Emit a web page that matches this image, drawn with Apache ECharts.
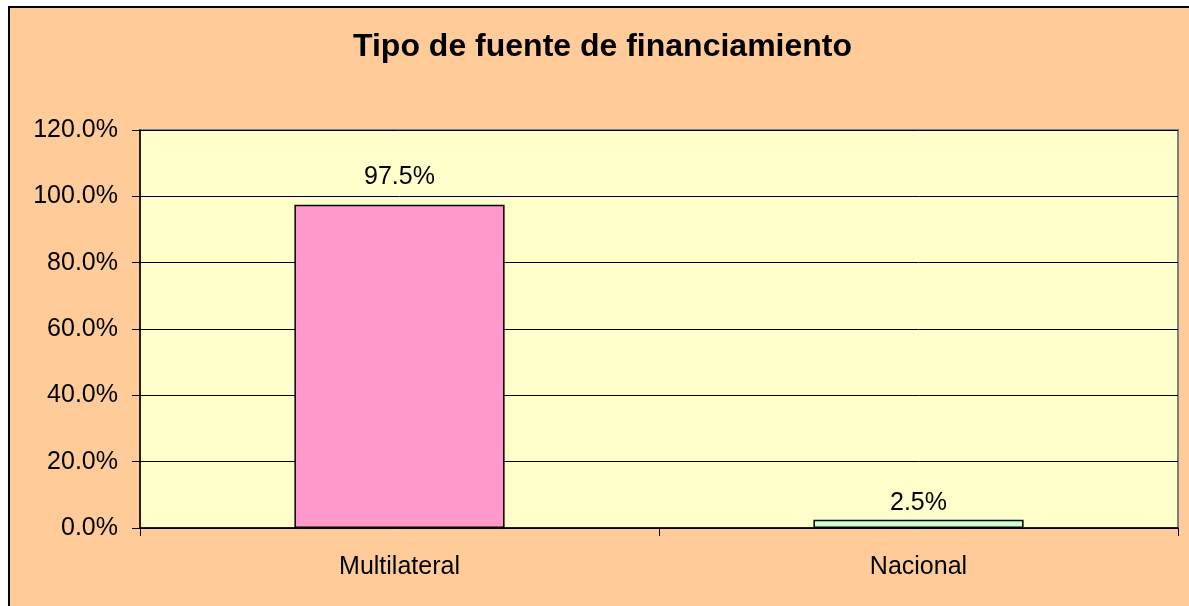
<!DOCTYPE html>
<html><head><meta charset="utf-8">
<script src="https://cdn.jsdelivr.net/npm/echarts@6/dist/echarts.min.js"></script>
<style>html,body{margin:0;padding:0;background:#fff;overflow:hidden}#c{width:1189px;height:606px}</style>
</head><body><div id="c"></div>
<script>
const categories = ['Multilateral', 'Nacional'];
const values = [97.5, 2.5];
const barColors = ['#FF99CC', '#CCFFCC'];
const labelGaps = [15, 4];
const yTicks = [0, 20, 40, 60, 80, 100, 120];

const chart = echarts.init(document.getElementById('c'));
const font = 'Liberation Sans, Arial, sans-serif';
chart.setOption({
  backgroundColor: '#ffffff',
  animation: false,
  graphic: [{
    type: 'rect', z: -10, silent: true,
    shape: { x: 9, y: 7, width: 1200, height: 620 },
    style: { fill: '#FFCC99', stroke: '#000', lineWidth: 2 }
  }],
  title: {
    text: 'Tipo de fuente de financiamiento',
    left: 348, top: 26,
    textStyle: { fontFamily: font, fontSize: 32, fontWeight: 'bold', color: '#000' }
  },
  grid: {
    left: 140, top: 130, width: 1038, height: 398,
    show: true, backgroundColor: '#FFFFCC', borderColor: '#808080', borderWidth: 2
  },
  xAxis: {
    type: 'category', data: categories,
    axisLine: { lineStyle: { color: '#000', width: 1.5 } },
    axisTick: { show: true, length: 8, lineStyle: { color: '#000' } },
    axisLabel: { color: '#000', fontFamily: font, fontSize: 25, margin: 27 }
  },
  yAxis: {
    type: 'value', min: yTicks[0], max: yTicks[yTicks.length - 1], interval: 20,
    axisLine: { show: true, lineStyle: { color: '#000', width: 1.5 } },
    axisTick: { show: true, length: 8, lineStyle: { color: '#000' } },
    splitLine: { lineStyle: { color: '#000', width: 1 } },
    axisLabel: { color: '#000', fontFamily: font, fontSize: 25, margin: 22,
      formatter: v => v.toFixed(1) + '%' }
  },
  series: [{
    type: 'bar',
    barCategoryGap: '59.5%',
    data: values.map((v, i) => ({
      value: v,
      itemStyle: { color: barColors[i], borderColor: '#000', borderWidth: 1.5 },
      label: { distance: labelGaps[i] }
    })),
    label: {
      show: true, position: 'top', color: '#000', fontFamily: font, fontSize: 25,
      formatter: p => p.value.toFixed(1) + '%'
    }
  }]
});
</script></body></html>
